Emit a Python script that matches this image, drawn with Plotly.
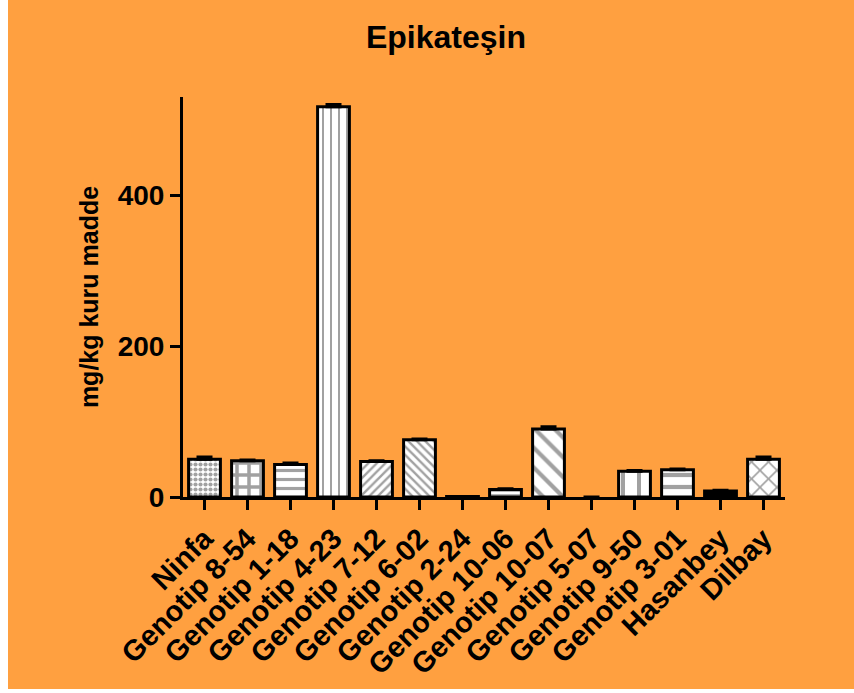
import plotly.graph_objects as go

# Epicatechin content per genotype (mg/kg dry matter)
genotypes = [
    "Ninfa", "Genotip 8-54", "Genotip 1-18", "Genotip 4-23", "Genotip 7-12",
    "Genotip 6-02", "Genotip 2-24", "Genotip 10-06", "Genotip 10-07",
    "Genotip 5-07", "Genotip 9-50", "Genotip 3-01", "Hasanbey", "Dilbay",
]
epikatesin = [50, 48, 43, 517, 47, 76, 0.5, 10, 90, 0, 34, 36, 8, 50]
hata = [3, 1, 2, 3, 1, 1, None, 1, 3, None, 1, 1, 1, 3]

y_ticks = [0, 200, 400]

# fill patterns for each bar (Prism-style hatches)
desen = [".", "+", "-", "|", "/", "\\", "-", "-", "\\", "", "|", "-", "", "x"]
desen_boyut = [5, 12, 9, 8, 6, 6, 4, 4, 14, 8, 16, 12, 8, 12]
desen_yogunluk = [0.55, 0.5, 0.35, 0.25, 0.4, 0.4, 0.3, 0.4, 0.3, 0.3, 0.25, 0.35, 0.3, 0.25]
dolgu = ["white"] * len(genotypes)
dolgu[12] = "black"

# no outline for empty (zero) bars
cizgi = [3 if v > 0 else 0 for v in epikatesin]

ORANGE = "#FFA040"
FONT = "Liberation Sans, Arial, sans-serif"

W, H = 854, 693
ML, MR, MT, MB = 183, 69, 97, 196

fig = go.Figure(
    go.Bar(
        x=genotypes,
        y=epikatesin,
        width=0.74,
        marker=dict(
            color=dolgu,
            line=dict(color="black", width=cizgi),
            pattern=dict(
                shape=desen,
                size=desen_boyut,
                solidity=desen_yogunluk,
                fgcolor="black",
                fillmode="overlay",
            ),
        ),
        error_y=dict(
            type="data",
            symmetric=False,
            array=hata,
            arrayminus=[0] * len(hata),
            color="black",
            thickness=3,
            width=8,
        ),
    )
)

# page frame: orange panel with a thin white border on the left and bottom
pw, ph = W - ML - MR, H - MT - MB
def px_x(p):
    return (p - ML) / pw
def px_y(p):
    return (H - MB - p) / ph

fig.add_shape(type="rect", xref="paper", yref="paper", layer="below",
              x0=px_x(0), x1=px_x(8), y0=px_y(H), y1=px_y(0),
              fillcolor="white", line_width=0)
fig.add_shape(type="rect", xref="paper", yref="paper", layer="below",
              x0=px_x(0), x1=px_x(W), y0=px_y(H), y1=px_y(689),
              fillcolor="white", line_width=0)

fig.update_layout(
    width=W,
    height=H,
    margin=dict(l=ML, r=MR, t=MT, b=MB, pad=0),
    paper_bgcolor=ORANGE,
    plot_bgcolor=ORANGE,
    showlegend=False,
    font=dict(family=FONT, color="black"),
    title=dict(
        text="<b>Epikateşin</b>",
        font=dict(size=32, family=FONT, color="black"),
        x=446 / W,
        xref="container",
        xanchor="center",
        y=1 - 37 / H,
        yref="container",
        yanchor="middle",
    ),
    xaxis=dict(
        range=[-0.5, len(genotypes) - 0.5],
        showline=True,
        linecolor="black",
        linewidth=3,
        ticks="outside",
        ticklen=10,
        tickwidth=3,
        tickcolor="black",
        tickangle=-45,
        tickfont=dict(size=29, family=FONT, color="black", weight="bold"),
        showgrid=False,
        zeroline=False,
    ),
    yaxis=dict(
        range=[0, 530],
        tickvals=y_ticks,
        showline=True,
        linecolor="black",
        linewidth=3,
        ticks="outside",
        ticklen=10,
        tickwidth=3,
        tickcolor="black",
        tickfont=dict(size=28, family=FONT, color="black", weight="bold"),
        showgrid=False,
        zeroline=False,
        title=dict(
            text="<b>mg/kg kuru madde</b>",
            font=dict(size=25, family=FONT, color="black"),
            standoff=12,
        ),
    ),
)

fig.write_html("out.html")
